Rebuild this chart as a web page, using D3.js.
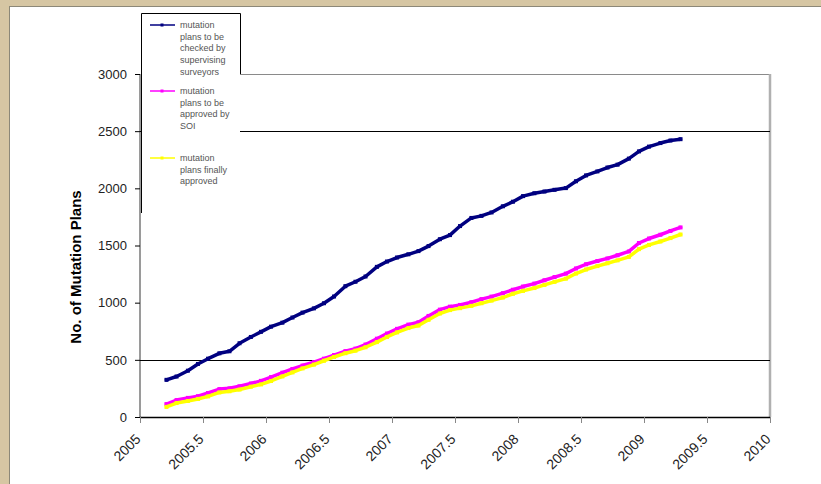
<!DOCTYPE html>
<html>
<head>
<meta charset="utf-8">
<script src="https://cdn.jsdelivr.net/npm/d3@7"></script>
<style>
  html, body { margin: 0; padding: 0; background: #fff; }
  svg { display: block; }
  text { font-family: "Liberation Sans", Arial, sans-serif; }
</style>
</head>
<body>
<svg id="chart" width="821" height="484"></svg>
<script>
// ---- data ----
const dates = [2005.21, 2005.29, 2005.38, 2005.46, 2005.54, 2005.63, 2005.71, 2005.79, 2005.88, 2005.96,
  2006.04, 2006.13, 2006.21, 2006.29, 2006.38, 2006.46, 2006.54, 2006.63, 2006.71, 2006.79,
  2006.88, 2006.96, 2007.04, 2007.13, 2007.21, 2007.29, 2007.38, 2007.46, 2007.54, 2007.63,
  2007.71, 2007.79, 2007.88, 2007.96, 2008.04, 2008.13, 2008.21, 2008.29, 2008.38, 2008.46,
  2008.54, 2008.63, 2008.71, 2008.79, 2008.88, 2008.96, 2009.04, 2009.13, 2009.21, 2009.29];

const checkedBySurveyors = [325, 354, 405, 464, 510, 557, 575, 645, 700, 745,
  790, 825, 870, 913, 950, 995, 1054, 1144, 1183, 1229,
  1313, 1360, 1395, 1423, 1451, 1495, 1555, 1591, 1670, 1741,
  1759, 1789, 1843, 1883, 1932, 1957, 1972, 1987, 2002, 2062,
  2113, 2148, 2182, 2207, 2260, 2323, 2365, 2396, 2418, 2430];

const approvedBySOI = [113, 148, 167, 182, 210, 244, 251, 269, 293, 316,
  349, 388, 420, 450, 479, 510, 542, 576, 598, 634,
  685, 730, 771, 808, 829, 884, 939, 965, 980, 1004,
  1031, 1053, 1083, 1113, 1141, 1167, 1196, 1224, 1254, 1299,
  1336, 1364, 1387, 1415, 1448, 1522, 1561, 1594, 1627, 1658];

const finallyApproved = [88, 122, 140, 158, 180, 215, 225, 240, 265, 285,
  315, 355, 390, 425, 458, 492, 525, 558, 580, 610,
  655, 700, 740, 778, 800, 850, 905, 935, 952, 972,
  995, 1018, 1045, 1078, 1103, 1128, 1155, 1182, 1210, 1255,
  1290, 1320, 1345, 1370, 1400, 1468, 1505, 1535, 1565, 1596];

const seriesNames = [
  ["mutation", "plans to be", "checked by", "supervising", "surveyors"],
  ["mutation", "plans to be", "approved by", "SOI"],
  ["mutation", "plans finally", "approved"]
];
const seriesColors = ["#000080", "#ff00ff", "#ffff00"];

const xTicks = [2005, 2005.5, 2006, 2006.5, 2007, 2007.5, 2008, 2008.5, 2009, 2009.5, 2010];
const xTickLabels = ["2005", "2005.5", "2006", "2006.5", "2007", "2007.5", "2008", "2008.5", "2009", "2009.5", "2010"];
const yTicks = [0, 500, 1000, 1500, 2000, 2500, 3000];
const gridValues = [500, 2500];
const yTitle = "No. of Mutation Plans";

// ---- layout ----
const svg = d3.select("#chart");
const L = 140, R = 770, T = 74, B = 417;

// page frame
svg.append("rect").attr("x", 0).attr("y", 0).attr("width", 821).attr("height", 484).attr("fill", "#d6c6a3");
svg.append("rect").attr("x", 9.5).attr("y", 6.5).attr("width", 830).attr("height", 500)
  .attr("fill", "#ffffff").attr("stroke", "#8c8878").attr("stroke-width", 1);

const x = d3.scaleLinear().domain([2005, 2010]).range([L, R]);
const y = d3.scaleLinear().domain([0, 3000]).range([B, T]);

// plot border
svg.append("line").attr("x1", L).attr("x2", R).attr("y1", T + 0.5).attr("y2", T + 0.5).attr("stroke", "#8a8a8a");
svg.append("line").attr("x1", R).attr("x2", R).attr("y1", T).attr("y2", B).attr("stroke", "#b0b0b0").attr("stroke-width", 2.5);
svg.append("line").attr("x1", L).attr("x2", L).attr("y1", T).attr("y2", B).attr("stroke", "#9a9a9a").attr("stroke-width", 2);

// gridlines
svg.append("g").selectAll("line").data(gridValues).join("line")
  .attr("x1", L).attr("x2", R)
  .attr("y1", d => Math.round(y(d)) + 0.5).attr("y2", d => Math.round(y(d)) + 0.5)
  .attr("stroke", "#000").attr("stroke-width", 1);

// y axis
const yAxis = svg.append("g").attr("transform", `translate(${L},0)`)
  .call(d3.axisLeft(y).tickValues(yTicks).tickSize(5).tickPadding(8).tickFormat(d3.format("d")));
yAxis.select(".domain").remove();
yAxis.selectAll(".tick line").attr("stroke", "#000");
yAxis.selectAll(".tick text").attr("font-size", 13).attr("fill", "#222")
  .attr("font-family", "'Liberation Sans', Arial, sans-serif");

// x axis
const xAxis = svg.append("g").attr("transform", `translate(0,${B})`)
  .call(d3.axisBottom(x).tickValues(xTicks).tickSize(6).tickFormat((d, i) => xTickLabels[i]));
xAxis.select(".domain").attr("stroke", "#000").attr("stroke-width", 1.5).attr("d", `M${L},0.5H${R}`);
xAxis.selectAll(".tick line").attr("stroke", "#888");
xAxis.selectAll(".tick text")
  .attr("font-size", 14).attr("fill", "#222")
  .attr("font-family", "'Liberation Sans', Arial, sans-serif")
  .attr("text-anchor", "end")
  .attr("dy", null).attr("y", 0)
  .attr("transform", "translate(1,23) rotate(-45)");

// y title
svg.append("text")
  .attr("transform", "translate(81,267) rotate(-90)")
  .attr("text-anchor", "middle")
  .attr("font-size", 15).attr("font-weight", "bold").attr("fill", "#000")
  .text(yTitle);

// series
const allSeries = [checkedBySurveyors, approvedBySOI, finallyApproved];
const line = d3.line().x(d => x(d[0])).y(d => y(d[1]));
allSeries.forEach((vals, si) => {
  const pts = dates.map((d, i) => [d, vals[i]]);
  const g = svg.append("g");
  g.append("path").datum(pts).attr("d", line)
    .attr("fill", "none").attr("stroke", seriesColors[si]).attr("stroke-width", 3.5)
    .attr("stroke-linejoin", "round").attr("stroke-linecap", "round");
  g.selectAll("rect").data(pts).join("rect")
    .attr("x", d => x(d[0]) - 2).attr("y", d => y(d[1]) - 2)
    .attr("width", 4).attr("height", 4).attr("fill", seriesColors[si]);
});

// legend
const lg = svg.append("g");
lg.append("rect").attr("x", 141).attr("y", 13).attr("width", 99).attr("height", 200).attr("fill", "#fff");
lg.append("path").attr("d", "M141.5,213V13.5H240.5V74").attr("fill", "none").attr("stroke", "#000").attr("stroke-width", 1);
const entryY = [25, 91, 158];
seriesNames.forEach((lines, si) => {
  const ly = entryY[si];
  lg.append("line").attr("x1", 150).attr("x2", 175).attr("y1", ly).attr("y2", ly)
    .attr("stroke", seriesColors[si]).attr("stroke-width", 1.5);
  lg.append("rect").attr("x", 160.5).attr("y", ly - 1.5).attr("width", 3).attr("height", 3).attr("fill", seriesColors[si]);
  lines.forEach((t, li) => {
    lg.append("text").attr("x", 180).attr("y", ly + 3 + li * 11.7)
      .attr("font-size", 9).attr("fill", "#555").text(t);
  });
});
</script>
</body>
</html>
